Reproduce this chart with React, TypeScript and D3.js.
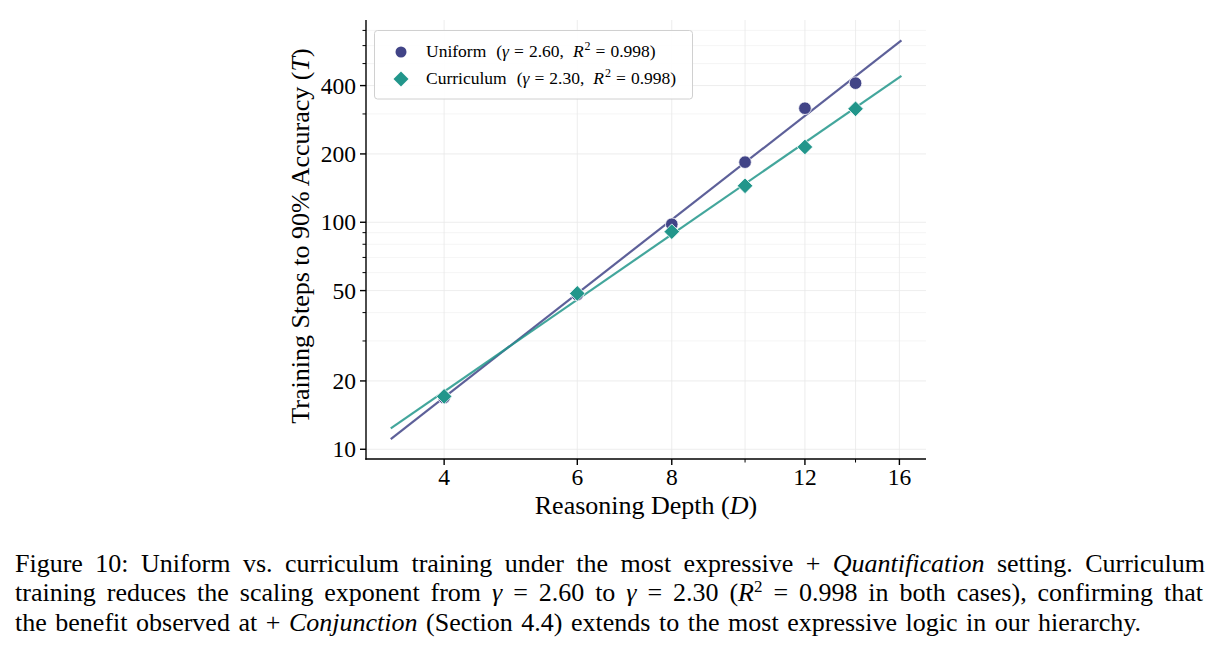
import { useEffect, useRef } from "react";
import * as d3 from "d3";

// data
const depths = [4, 6, 8, 10, 12, 14];
const uniformSteps = [16.9, 48, 98, 184, 318, 410];
const curriculumSteps = [17.1, 48.6, 90.9, 144.7, 214.6, 316];

// power-law fits  T = c * D^gamma
const fitGamma = [2.6, 2.3];
const fitPrefactor = [0.4605, 0.74];
const fitRange = [3.4, 16.1];

const seriesNames = ["Uniform", "Curriculum"];
const gammaLabels = ["2.60", "2.30"];
const r2Labels = ["0.998", "0.998"];
const seriesColors = ["#414487", "#22968b"];

const xTicks = [4, 6, 8, 12, 16];
const xMinorTicks = [10, 14];
const yTicks = [10, 20, 50, 100, 200, 400];
const yMinorTicks = [30, 40, 60, 70, 80, 90, 300, 500, 600, 700];

const captionLines = [
  "Figure 10: Uniform vs. curriculum training under the most expressive + ",
  "training reduces the scaling exponent from ",
  "the benefit observed at + ",
];
const captionWidths = [1190, 1188, 1126];

const W = 1219;
const H = 652;
const left = 366, right = 926, top = 20, bottom = 459;
const serif = "'Liberation Serif', 'Times New Roman', serif";

export default function App() {
  const capRefs = useRef<(SVGTextElement | null)[]>([]);

  // justify caption lines by stretching the word gaps, like LaTeX does
  useEffect(() => {
    capRefs.current.forEach((el, i) => {
      if (!el) return;
      el.removeAttribute("word-spacing");
      const natural = el.getComputedTextLength();
      const gaps = (el.textContent || "").split(" ").length - 1;
      if (gaps > 0) el.setAttribute("word-spacing", String((captionWidths[i] - natural) / gaps));
    });
  }, []);

  const x = d3.scaleLog().domain([3.153, 17.35]).range([left, right]);
  const y = d3.scaleLog().domain([9.06, 778]).range([bottom, top]);

  const diamond = (cx: number, cy: number, r: number) =>
    `M${cx},${cy - r}L${cx + r},${cy}L${cx},${cy + r}L${cx - r},${cy}Z`;

  const mathLabel = (i: number) => (
    <>
      {seriesNames[i]}
      <tspan dx={10}>(</tspan>
      <tspan fontStyle="italic">γ</tspan>
      <tspan dx={5}>=</tspan>
      <tspan dx={5}>{gammaLabels[i]},</tspan>
      <tspan dx={9} fontStyle="italic">R</tspan>
      <tspan dy={-7} dx={1} fontSize={12}>2</tspan>
      <tspan dy={7} dx={5}>=</tspan>
      <tspan dx={5}>{r2Labels[i]})</tspan>
    </>
  );

  return (
    <svg
      width={W}
      height={H}
      style={{ position: "absolute", left: 0, top: 0, background: "#fff" }}
      fontFamily={serif}
    >
      {/* grid */}
      <g stroke="#e8e8e8" strokeWidth={0.8}>
        {yMinorTicks.map((t) => (
          <line key={"ym" + t} x1={left} x2={right} y1={y(t)} y2={y(t)} stroke="#f3f3f3" />
        ))}
        {yTicks.map((t) => (
          <line key={"y" + t} x1={left} x2={right} y1={y(t)} y2={y(t)} />
        ))}
        {[...xTicks, ...xMinorTicks].map((t) => (
          <line key={"x" + t} x1={x(t)} x2={x(t)} y1={top} y2={bottom} />
        ))}
      </g>

      {/* fit lines */}
      {fitGamma.map((g, i) => {
        const pts = fitRange.map((d) => [x(d), y(fitPrefactor[i] * Math.pow(d, g))] as [number, number]);
        return (
          <path
            key={"fit" + i}
            d={d3.line()(pts) || ""}
            stroke={seriesColors[i]}
            strokeOpacity={0.85}
            strokeWidth={2.2}
            fill="none"
          />
        );
      })}

      {/* markers */}
      {depths.map((d, j) => (
        <circle
          key={"u" + j}
          cx={x(d)}
          cy={y(uniformSteps[j])}
          r={6.3}
          fill={seriesColors[0]}
          stroke="#fff"
          strokeWidth={0.8}
        />
      ))}
      {depths.map((d, j) => (
        <path
          key={"c" + j}
          d={diamond(x(d), y(curriculumSteps[j]), 7.8)}
          fill={seriesColors[1]}
          stroke="#fff"
          strokeWidth={0.8}
        />
      ))}

      {/* axes */}
      <g stroke="#000" strokeWidth={1.4}>
        <line x1={left} x2={left} y1={top} y2={bottom + 0.7} />
        <line x1={left - 0.7} x2={right} y1={bottom} y2={bottom} />
        {yTicks.map((t) => (
          <line key={"yt" + t} x1={left - 6} x2={left} y1={y(t)} y2={y(t)} />
        ))}
        {yMinorTicks.map((t) => (
          <line key={"ymt" + t} x1={left - 3.5} x2={left} y1={y(t)} y2={y(t)} strokeWidth={1} />
        ))}
        {xTicks.map((t) => (
          <line key={"xt" + t} x1={x(t)} x2={x(t)} y1={bottom} y2={bottom + 6} />
        ))}
        {xMinorTicks.map((t) => (
          <line key={"xmt" + t} x1={x(t)} x2={x(t)} y1={bottom} y2={bottom + 3.5} strokeWidth={1} />
        ))}
      </g>
      <g fontSize={23.5} fill="#000">
        {yTicks.map((t) => (
          <text key={"yl" + t} x={left - 10} y={y(t)} dy="0.35em" textAnchor="end">
            {t}
          </text>
        ))}
        {xTicks.map((t) => (
          <text key={"xl" + t} x={x(t)} y={bottom + 26} textAnchor="middle">
            {t}
          </text>
        ))}
      </g>
      <text x={(left + right) / 2} y={514} textAnchor="middle" fontSize={26}>
        Reasoning Depth (<tspan fontStyle="italic">D</tspan>)
      </text>
      <text transform="translate(309,236) rotate(-90)" textAnchor="middle" fontSize={26}>
        Training Steps to 90% Accuracy (<tspan fontStyle="italic">T</tspan>)
      </text>

      {/* legend */}
      <rect x={374.5} y={30.5} width={318} height={68.5} rx={3} fill="#fff" fillOpacity={0.9} stroke="#d0d0d0" />
      <circle cx={401} cy={52} r={5.5} fill={seriesColors[0]} />
      <path d={diamond(401, 79, 7.5)} fill={seriesColors[1]} />
      <text x={426} y={57} fontSize={17.5}>
        {mathLabel(0)}
      </text>
      <text x={426} y={84} fontSize={17.5}>
        {mathLabel(1)}
      </text>

      {/* caption */}
      <g fontSize={26} fill="#000">
        <text ref={(el) => { capRefs.current[0] = el; }} x={15} y={571.5}>
          {captionLines[0]}
          <tspan fontStyle="italic">Quantification</tspan> setting. Curriculum
        </text>
        <text ref={(el) => { capRefs.current[1] = el; }} x={15} y={601}>
          {captionLines[1]}
          <tspan fontStyle="italic">γ</tspan> = 2.60 to <tspan fontStyle="italic">γ</tspan> = 2.30 (
          <tspan fontStyle="italic">R</tspan>
          <tspan dy={-9} fontSize={17}>2</tspan>
          <tspan dy={9}> = 0.998 in both cases), confirming that</tspan>
        </text>
        <text ref={(el) => { capRefs.current[2] = el; }} x={15} y={630.5}>
          {captionLines[2]}
          <tspan fontStyle="italic">Conjunction</tspan> (Section 4.4) extends to the most expressive logic in our hierarchy.
        </text>
      </g>
    </svg>
  );
}
